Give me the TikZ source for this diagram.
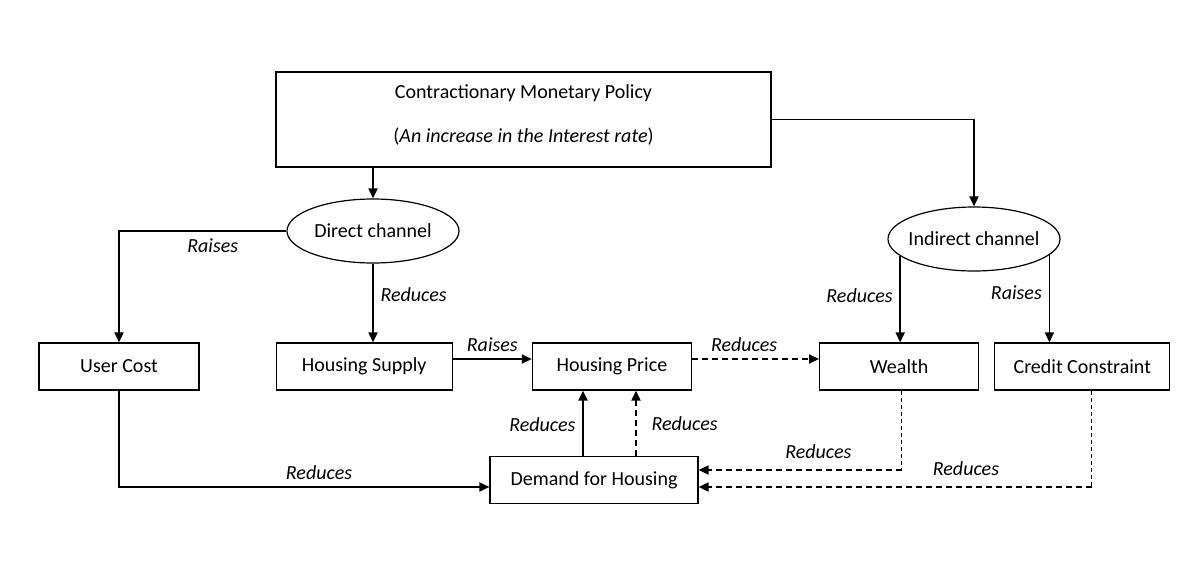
\documentclass[tikz,border=0pt]{standalone}
\usepackage{fontspec}
\setmainfont{Carlito}
\usetikzlibrary{shapes.geometric, arrows.meta, positioning}

\tikzset{
  box/.style={draw, line width=0.6pt, inner sep=0pt, minimum height=23.5pt},
  chan/.style={draw, ellipse, line width=0.6pt, inner xsep=-8pt, inner ysep=0pt, minimum width=86pt, minimum height=32pt},
  arr/.style={line width=0.9pt, -{Triangle[length=5pt,width=4.5pt]}},
  darr/.style={arr, dash pattern=on 3pt off 2pt},
  fdash/.style={line width=0.45pt, dash pattern=on 2pt off 1.5pt},
  lbl/.style={font=\itshape},
}

\begin{document}
\begin{tikzpicture}[x=0.5pt, y=-0.5pt]
        \useasboundingbox (0,0) rectangle (1201,568);

        \node[box, minimum width=247.5pt, minimum height=47.5pt, align=center, text depth=6pt] (mp) at (523.5,119.5)
            {Contractionary Monetary Policy\\[10pt](\textit{An increase in the Interest rate})};
        \node[chan] (dc) at (373,231) {Direct channel};
        \node[chan] (ic) at (974,239) {Indirect channel};

        \node[box, minimum width=80pt]                     (uc) at (119,366.5) {User Cost};
        \node[box, minimum width=88pt, right=38pt of uc]   (hs) {Housing Supply};
        \node[box, minimum width=79.5pt, right=39.5pt of hs] (hp) {Housing Price};
        \node[box, minimum width=79.5pt, right=63.5pt of hp] (w)  {Wealth};
        \node[box, minimum width=87.5pt, right=7.5pt of w]  (cc) {Credit Constraint};
        \node[box, minimum width=104pt]                    (dh) at (594,480) {Demand for Housing};

        \coordinate (dhw) at ([yshift=5pt]dh.east);
        \coordinate (dhc) at ([yshift=-3.5pt]dh.east);

        \draw[arr] (dc.north |- mp.south) -- (dc.north);
        \draw[arr] (mp.east) -| (ic.north);
        \draw[arr] (dc.west) -| node[lbl, below, pos=0.22] {Raises} (uc.north);
        \draw[arr] (dc.south) -- node[lbl, right, pos=0.4] {Reduces} (dc.south |- hs.north);
        \draw[arr] (ic.193) -- node[lbl, left, pos=0.46] {Reduces} (ic.193 |- w.north);
        \draw[arr] (ic.-12) -- node[lbl, left, pos=0.43] {Raises} (ic.-12 |- cc.north);

        \draw[arr] ([yshift=3.75pt]hs.east) -- node[lbl, above] {Raises} ([yshift=3.75pt]hp.west);
        \draw[darr] ([yshift=3.75pt]hp.east) -- node[lbl, above, pos=0.41] {Reduces} ([yshift=3.75pt]w.west);

        \draw[arr] ([xshift=-5.5pt]dh.north) -- node[lbl, left, pos=0.48] {Reduces} ([xshift=-5.5pt]dh.north |- hp.south);
        \draw[darr] ([xshift=21pt]dh.north) -- node[lbl, right=4pt, pos=0.5] {Reduces} ([xshift=21pt]dh.north |- hp.south);
        \draw[arr] (uc.south) |- node[lbl, above, pos=0.77] {Reduces} ([yshift=-3.5pt]dh.west);

        \draw[fdash] ([xshift=1.25pt]w.south) -- ([xshift=1.25pt]w.south |- dhw) coordinate (wk);
        \draw[darr] (wk) -- node[lbl, above=2pt, pos=0.41] {Reduces} (dhw);
        \draw[fdash] ([xshift=4.75pt]cc.south) -- ([xshift=4.75pt]cc.south |- dhc) coordinate (ck);
        \draw[darr] (ck) -- node[lbl, above=2pt, pos=0.32] {Reduces} (dhc);
\end{tikzpicture}
\end{document}
